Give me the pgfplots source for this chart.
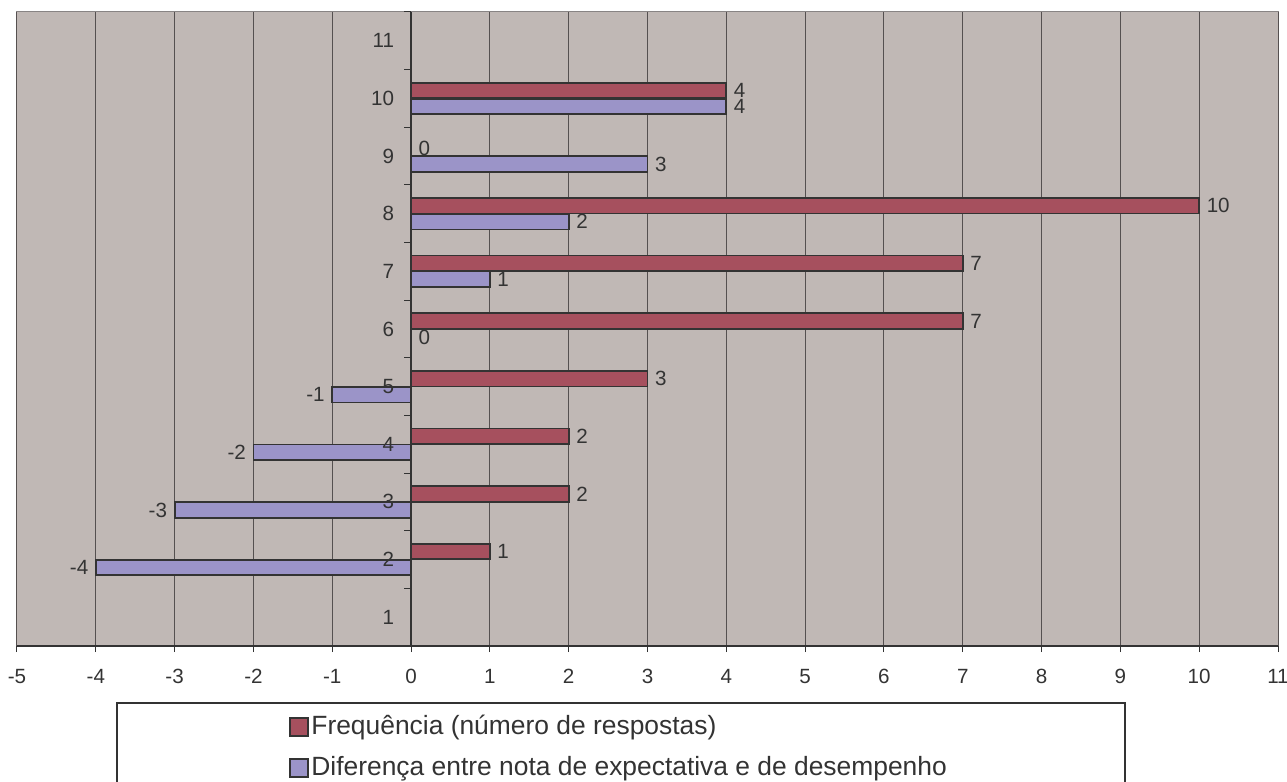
\documentclass[border=0pt]{standalone}
\usepackage{pgfplots}
\pgfplotsset{compat=1.18}
\usepackage{fontspec}
\setmainfont{Liberation Sans}

\definecolor{bgc}{RGB}{192,184,181}
\definecolor{barred}{RGB}{166,80,94}
\definecolor{barblue}{RGB}{155,148,200}
\definecolor{edge}{RGB}{51,51,51}
\definecolor{gridc}{RGB}{85,80,80}

\pgfplotsset{
  frame/.style={
    at={(0,0)}, anchor=south west,
    scale only axis, width=630.5pt, height=317pt,
    xmin=-5, xmax=11, ymin=0.5, ymax=11.5,
    tick label style={font=\fontsize{10.3}{12}\selectfont, text=edge},
  },
}

\begin{document}
\begin{tikzpicture}
\begin{axis}[
  frame,
  axis x line=bottom, axis y line=middle,
  axis line style={-, edge, line width=0.9pt},
  axis background/.style={fill=bgc, draw=gridc!70, line width=0.5pt},
  xtick={-5,...,11},
  xticklabels={-5,-4,-3,-2,-1,0,1,2,3,4,5,6,7,8,9,10,11},
  ytick=\empty,
  tick align=outside,
  major tick length=3pt,
  xtick style={edge, line width=0.5pt},
  xmajorgrids, grid style={gridc, line width=0.5pt},
  xticklabel style={yshift=-5pt},
  /pgf/number format/assume math mode=true,
  xbar, bar width=7.8pt,
  every axis plot/.append style={draw=edge, line width=0.9pt},
  nodes near coords,
  every node near coord/.append style={font=\fontsize{10.3}{12}\selectfont, text=edge},
  clip=false,
  legend style={at={(0.2157,-0.1057)}, anchor=north west, draw=none, fill=none,
    inner sep=0pt, row sep=7.5pt, nodes={inner sep=1pt},
    font=\fontsize{13.2}{15}\selectfont, text=edge},
  legend cell align=left,
  legend image code/.code={\draw[#1, line width=1pt] (0pt,-4.5pt) rectangle (9pt,4.5pt);},
]
\addplot[fill=barred, bar shift=4pt] coordinates {
  (1,2) (2,3) (2,4) (3,5) (7,6) (7,7) (10,8) (0,9) (4,10)
};
\addlegendentry{Frequência (número de respostas)}
\addplot[fill=barblue, bar shift=-4pt] coordinates {
  (-4,2) (-3,3) (-2,4) (-1,5) (0,6) (1,7) (2,8) (3,9) (4,10)
};
\addlegendentry{Diferença entre nota de expectativa e de desempenho}
\end{axis}
% second pass: category labels and their separators drawn over the bars
\begin{axis}[
  frame,
  axis x line=none, axis y line=middle,
  y axis line style={draw=none},
  xtick=\empty,
  ytick={1,...,11},
  yticklabels={1,2,3,4,5,6,7,8,9,10,11},
  yticklabel style={xshift=-5pt},
  minor ytick={0.5,1.5,...,11.5},
  tick align=outside,
  major tick length=0pt, minor tick length=3.5pt,
  minor tick style={edge, line width=0.5pt},
]
\end{axis}
\draw[edge, line width=0.6pt] (50pt,-28.5pt) rectangle (554pt,-90pt);
\pgfresetboundingbox
\useasboundingbox (-8.5pt,-68pt) rectangle (635pt,323pt);
\end{tikzpicture}
\end{document}
